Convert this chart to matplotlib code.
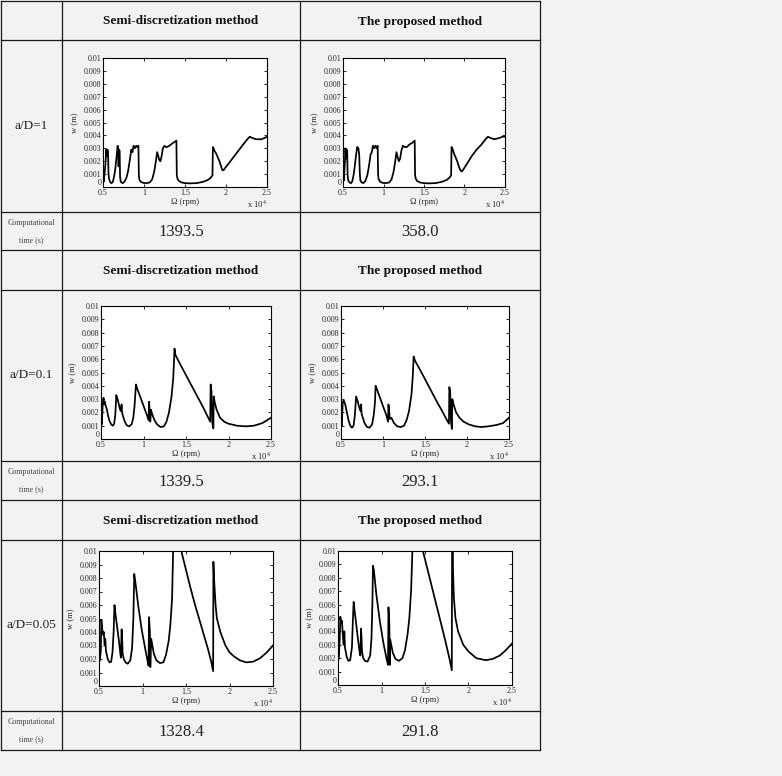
import matplotlib

matplotlib.use("Agg")
import matplotlib.pyplot as plt
import matplotlib.transforms as mtrans
import numpy as np

W, H = 782, 776
BG = "#f2f2f2"
plt.rcParams["font.family"] = ["Liberation Serif", "DejaVu Serif"]
plt.rcParams["mathtext.fontset"] = "stix"

# (spindle speed in 1e4 rpm, amplitude w in mm)
semi_1 = [(0.500, 0.6), (0.503, 1.2), (0.507, 0.4), (0.515, 0.8), (0.530, 1.8), (0.540, 2.9),
          (0.548, 2.4), (0.555, 2.9), (0.562, 2.6), (0.567, 1.0), (0.575, 0.6), (0.590, 0.35),
          (0.605, 0.3), (0.620, 0.4), (0.635, 0.8), (0.650, 1.4), (0.665, 2.3), (0.678, 3.2),
          (0.685, 2.8), (0.690, 1.6), (0.697, 2.9), (0.703, 2.8), (0.708, 0.8), (0.715, 0.45),
          (0.725, 0.35), (0.740, 0.3), (0.760, 0.4), (0.785, 0.7), (0.805, 1.2), (0.825, 2.0),
          (0.845, 2.9), (0.860, 2.7), (0.872, 3.2), (0.890, 3.0), (0.905, 3.2), (0.920, 3.1),
          (0.932, 3.2), (0.937, 0.9), (0.945, 0.55), (0.960, 0.4), (0.990, 0.32), (1.030, 0.3),
          (1.070, 0.35), (1.100, 0.6), (1.125, 1.2), (1.145, 2.0), (1.160, 2.7), (1.175, 2.4),
          (1.185, 2.1), (1.200, 2.0), (1.215, 2.4), (1.230, 3.0), (1.250, 3.2), (1.265, 3.1),
          (1.280, 3.1), (1.310, 3.2), (1.350, 3.4), (1.375, 3.5), (1.395, 3.6), (1.400, 0.9),
          (1.410, 0.6), (1.430, 0.45), (1.460, 0.35), (1.500, 0.3), (1.560, 0.28), (1.640, 0.3),
          (1.720, 0.4), (1.780, 0.55), (1.810, 0.7), (1.835, 0.9), (1.840, 3.1), (1.848, 3.0),
          (1.860, 2.8), (1.880, 2.6), (1.900, 2.3), (1.920, 2.0), (1.940, 1.6), (1.955, 1.3),
          (1.970, 1.3), (1.980, 1.4), (2.030, 1.8), (2.090, 2.3), (2.150, 2.8), (2.210, 3.3),
          (2.260, 3.7), (2.290, 3.9), (2.320, 3.8), (2.370, 3.7), (2.430, 3.7), (2.470, 3.8),
          (2.500, 3.9)]

prop_1 = [(0.500, 0.5), (0.504, 1.0), (0.510, 0.5), (0.520, 1.5), (0.530, 3.0), (0.537, 2.2),
          (0.545, 2.9), (0.552, 2.8), (0.557, 0.9), (0.565, 0.5), (0.580, 0.35), (0.600, 0.3),
          (0.615, 0.45), (0.630, 0.9), (0.645, 1.6), (0.660, 2.4), (0.675, 3.1), (0.690, 3.0),
          (0.700, 2.5), (0.708, 1.0), (0.715, 0.5), (0.730, 0.35), (0.750, 0.3), (0.775, 0.45),
          (0.800, 0.9), (0.820, 1.6), (0.840, 2.5), (0.855, 2.7), (0.870, 3.2), (0.885, 3.0),
          (0.900, 3.2), (0.915, 3.0), (0.928, 3.2), (0.933, 1.0), (0.940, 0.6), (0.960, 0.4),
          (0.990, 0.32), (1.030, 0.3), (1.070, 0.35), (1.100, 0.6), (1.125, 1.2), (1.145, 2.0),
          (1.160, 2.7), (1.175, 2.3), (1.190, 2.0), (1.205, 2.2), (1.220, 2.8), (1.240, 3.2),
          (1.260, 3.1), (1.290, 3.1), (1.320, 3.3), (1.350, 3.4), (1.385, 3.6), (1.390, 0.9),
          (1.400, 0.6), (1.420, 0.45), (1.450, 0.35), (1.500, 0.3), (1.560, 0.28), (1.640, 0.3),
          (1.720, 0.4), (1.780, 0.55), (1.810, 0.7), (1.835, 0.9), (1.840, 3.1), (1.850, 3.0),
          (1.870, 2.6), (1.890, 2.3), (1.910, 2.0), (1.930, 1.6), (1.950, 1.3), (1.965, 1.2),
          (1.980, 1.3), (2.030, 1.8), (2.090, 2.4), (2.150, 2.9), (2.210, 3.3), (2.260, 3.7),
          (2.290, 3.9), (2.320, 3.8), (2.370, 3.7), (2.430, 3.8), (2.470, 3.9), (2.500, 3.9)]

semi_01 = [(0.500, 1.0), (0.505, 1.3), (0.510, 1.1), (0.520, 2.6), (0.530, 3.1), (0.537, 2.6),
           (0.545, 2.8), (0.555, 2.5), (0.570, 2.2), (0.585, 1.7), (0.600, 1.35), (0.620, 1.1),
           (0.640, 1.0), (0.655, 1.15), (0.668, 1.8), (0.680, 3.3), (0.695, 3.0), (0.710, 2.6),
           (0.725, 2.2), (0.735, 2.1), (0.742, 2.6), (0.748, 2.0), (0.760, 1.7), (0.780, 1.3),
           (0.800, 1.05), (0.830, 0.95), (0.860, 1.1), (0.880, 1.6), (0.895, 2.5), (0.905, 3.5),
           (0.912, 4.1), (0.925, 3.8), (0.960, 3.2), (1.000, 2.5), (1.040, 1.8), (1.060, 1.4),
           (1.065, 2.8), (1.075, 2.0), (1.080, 1.3), (1.088, 2.2), (1.100, 1.9), (1.130, 1.4),
           (1.160, 1.1), (1.200, 0.9), (1.240, 0.95), (1.270, 1.3), (1.300, 2.0), (1.330, 3.2),
           (1.350, 4.6), (1.360, 6.0), (1.365, 6.8), (1.372, 6.4), (1.385, 6.2), (1.450, 5.4),
           (1.500, 4.8), (1.550, 4.2), (1.600, 3.6), (1.650, 3.0), (1.700, 2.4), (1.750, 1.75),
           (1.785, 1.3), (1.790, 4.1), (1.800, 3.6), (1.810, 1.2), (1.822, 0.8), (1.826, 3.2),
           (1.840, 2.7), (1.860, 2.2), (1.900, 1.6), (1.950, 1.3), (2.000, 1.15), (2.100, 1.0),
           (2.200, 0.95), (2.300, 1.0), (2.400, 1.2), (2.500, 1.6)]

prop_01 = [(0.500, 0.9), (0.505, 1.1), (0.510, 1.0), (0.520, 2.7), (0.530, 2.9), (0.540, 2.8),
           (0.550, 2.6), (0.570, 2.0), (0.590, 1.4), (0.610, 1.0), (0.630, 0.85), (0.650, 1.0),
           (0.665, 1.8), (0.680, 3.2), (0.700, 2.8), (0.720, 2.3), (0.735, 2.1), (0.740, 2.6),
           (0.745, 1.9), (0.760, 1.6), (0.780, 1.2), (0.810, 0.9), (0.840, 0.85), (0.870, 1.1),
           (0.890, 1.8), (0.905, 2.8), (0.912, 4.0), (0.930, 3.7), (0.970, 3.0), (1.010, 2.3),
           (1.040, 1.8), (1.060, 1.3), (1.065, 2.6), (1.075, 2.0), (1.080, 1.5), (1.100, 1.6),
           (1.130, 1.2), (1.170, 0.95), (1.210, 0.9), (1.250, 1.0), (1.280, 1.4), (1.310, 2.1),
           (1.340, 3.4), (1.355, 4.8), (1.365, 6.2), (1.380, 5.9), (1.450, 5.1), (1.500, 4.5),
           (1.550, 3.9), (1.600, 3.3), (1.650, 2.7), (1.700, 2.15), (1.750, 1.55), (1.785, 1.15),
           (1.790, 3.9), (1.800, 3.5), (1.810, 1.3), (1.820, 0.75), (1.825, 3.0), (1.840, 2.6),
           (1.870, 2.0), (1.910, 1.6), (1.960, 1.3), (2.020, 1.1), (2.100, 0.95), (2.170, 0.9),
           (2.250, 0.95), (2.350, 1.05), (2.430, 1.2), (2.500, 1.6)]

semi_005 = [(0.500, 4.5), (0.504, 1.8), (0.510, 2.0), (0.520, 2.5), (0.527, 4.9), (0.535, 4.4),
            (0.545, 3.8), (0.555, 4.0), (0.565, 3.0), (0.572, 3.5), (0.580, 2.6), (0.600, 2.0),
            (0.620, 1.75), (0.640, 1.8), (0.655, 2.5), (0.668, 4.0), (0.678, 6.0), (0.690, 5.3),
            (0.710, 4.3), (0.730, 3.3), (0.745, 2.4), (0.752, 2.1), (0.760, 4.2), (0.766, 3.5),
            (0.772, 2.4), (0.785, 2.0), (0.805, 1.75), (0.830, 1.65), (0.860, 1.9), (0.880, 2.8),
            (0.895, 5.0), (0.905, 8.3), (0.918, 7.7), (0.950, 6.0), (0.990, 4.2), (1.030, 2.8),
            (1.060, 1.8), (1.070, 1.5), (1.075, 5.1), (1.085, 4.0), (1.090, 1.4), (1.100, 3.5),
            (1.130, 2.4), (1.160, 1.9), (1.200, 1.7), (1.240, 1.75), (1.270, 2.3), (1.300, 3.3),
            (1.320, 4.5), (1.340, 6.5), (1.352, 10.0), (1.360, 13.0), (1.440, 13.0), (1.450, 9.9),
            (1.500, 8.6), (1.550, 7.3), (1.600, 6.1), (1.650, 5.0), (1.700, 3.9), (1.750, 2.8),
            (1.790, 1.8), (1.812, 1.1), (1.815, 9.2), (1.822, 8.0), (1.840, 6.0), (1.855, 5.0),
            (1.895, 4.0), (1.953, 3.0), (2.000, 2.5), (2.050, 2.2), (2.120, 1.9), (2.190, 1.75),
            (2.270, 1.8), (2.350, 2.05), (2.430, 2.5), (2.500, 3.0)]

prop_005 = [(0.500, 1.8), (0.510, 2.0), (0.520, 3.5), (0.527, 5.1), (0.535, 4.6), (0.545, 4.8),
            (0.555, 3.8), (0.565, 3.0), (0.573, 4.0), (0.580, 2.8), (0.600, 2.1), (0.620, 1.8),
            (0.640, 1.85), (0.660, 2.8), (0.672, 5.0), (0.680, 6.2), (0.690, 5.6), (0.710, 4.5),
            (0.730, 3.4), (0.750, 2.4), (0.757, 2.2), (0.765, 4.2), (0.770, 3.6), (0.776, 2.5),
            (0.790, 2.0), (0.810, 1.8), (0.840, 1.75), (0.870, 2.2), (0.885, 3.5), (0.895, 6.0),
            (0.902, 8.9), (0.912, 8.6), (0.940, 6.8), (0.980, 4.8), (1.020, 3.2), (1.060, 1.9),
            (1.075, 1.5), (1.080, 5.8), (1.090, 4.6), (1.095, 1.5), (1.100, 3.4), (1.130, 2.4),
            (1.160, 1.95), (1.200, 1.8), (1.240, 2.0), (1.270, 2.6), (1.300, 3.8), (1.320, 5.0),
            (1.340, 7.0), (1.355, 10.0), (1.365, 13.0), (1.470, 13.0), (1.480, 9.9), (1.530, 8.6),
            (1.580, 7.3), (1.630, 6.0), (1.680, 4.7), (1.730, 3.4), (1.780, 2.0), (1.808, 1.1),
            (1.812, 13.0), (1.818, 13.0), (1.822, 8.5), (1.832, 6.5), (1.850, 5.0), (1.880, 4.0),
            (1.940, 3.0), (2.000, 2.5), (2.090, 2.0), (2.200, 1.85), (2.280, 1.95), (2.360, 2.2),
            (2.430, 2.6), (2.500, 3.1)]

row_labels = ["a/D=1", "a/D=0.1", "a/D=0.05"]
method_names = ["Semi-discretization method", "The proposed method"]
comp_times = [["1393.5", "358.0"], ["1339.5", "293.1"], ["1328.4", "291.8"]]
curves = [[semi_1, prop_1], [semi_01, prop_01], [semi_005, prop_005]]

x_ticks = [0.5, 1, 1.5, 2, 2.5]
x_ticklabels = ["0.5", "1", "1.5", "2", "2.5"]
y_ticks = [0, 0.001, 0.002, 0.003, 0.004, 0.005, 0.006, 0.007, 0.008, 0.009, 0.01]
y_ticklabels = ["0", "0.001", "0.002", "0.003", "0.004", "0.005", "0.006", "0.007",
                "0.008", "0.009", "0.01"]

# table geometry (pixels)
cols = [1, 62, 300, 540]
rows = [1, 40, 212, 250, 290, 461, 500, 540, 711, 750]
boxes = [[(103, 58, 267, 187), (343, 58, 505, 187)],
         [(101, 306, 271, 439), (341, 306, 509, 439)],
         [(99, 551, 273, 686), (338, 551, 512, 685)]]

fig = plt.figure(figsize=(W / 100, H / 100), dpi=100, facecolor=BG)
bg = fig.add_axes([0, 0, 1, 1])
bg.set_xlim(0, W)
bg.set_ylim(H, 0)
bg.axis("off")

for c in cols:
    bg.plot([c, c], [rows[0], rows[-1]], color="#1a1a1a", lw=0.9)
for r in rows:
    bg.plot([cols[0], cols[-1]], [r, r], color="#1a1a1a", lw=0.9)

col_mid = [(cols[1] + cols[2]) / 2, (cols[2] + cols[3]) / 2]
lab_mid = (cols[0] + cols[1]) / 2


def panel(box, pts):
    l, t, r, b = box
    ax = fig.add_axes([l / W, 1 - b / H, (r - l) / W, (b - t) / H])
    xs, ys = zip(*pts)
    ax.plot(xs, np.asarray(ys) * 1e-3, color="k", lw=1.25)
    ax.set_xlim(0.5, 2.5)
    ax.set_ylim(0, 0.01)
    ax.set_xticks(x_ticks)
    ax.set_xticklabels(x_ticklabels)
    ax.set_yticks(y_ticks)
    ax.set_yticklabels(y_ticklabels)
    ax.tick_params(direction="in", top=True, right=True, length=2.5, width=0.6,
                   labelsize=5.8, pad=1.2, labelcolor="#2a2a2a")
    # MATLAB puts the "0" just above the corner, clear of the "0.5"
    ax.get_yticklabels()[0].set_verticalalignment("bottom")
    for s in ax.spines.values():
        s.set_linewidth(0.8)
    ax.set_xlabel("Ω (rpm)", fontsize=6.2, labelpad=0.8, color="#2a2a2a")
    ax.set_ylabel("w (m)", fontsize=6.2, labelpad=3.5, color="#2a2a2a")
    tr = mtrans.offset_copy(ax.transAxes, fig=fig, x=0, y=-17, units="dots")
    ax.text(1.0, 0, "x 10$^4$", transform=tr, ha="right", va="center",
            fontsize=6.2, color="#2a2a2a")
    return ax


for i in range(3):
    top, pl_top, tm_top, tm_bot = rows[3 * i:3 * i + 4]
    for j in range(2):
        bg.text(col_mid[j], (top + pl_top) / 2 + 1, method_names[j], ha="center",
                va="center", fontsize=9.5, fontweight="bold", color="#111111")
        bg.text(col_mid[j], (tm_top + tm_bot) / 2 + 1, comp_times[i][j], ha="center",
                va="center", fontsize=12, color="#222222")
        panel(boxes[i][j], curves[i][j])
    bg.text(lab_mid, (pl_top + tm_top) / 2, row_labels[i], ha="center", va="center",
            fontsize=9.5, color="#222222")
    bg.text(lab_mid, tm_top + 11, "Computational", ha="center", va="center",
            fontsize=5.8, color="#444444")
    bg.text(lab_mid, tm_top + 28, "time (s)", ha="center", va="center",
            fontsize=5.8, color="#444444")

fig.savefig("out.png", dpi=100, facecolor=BG)
